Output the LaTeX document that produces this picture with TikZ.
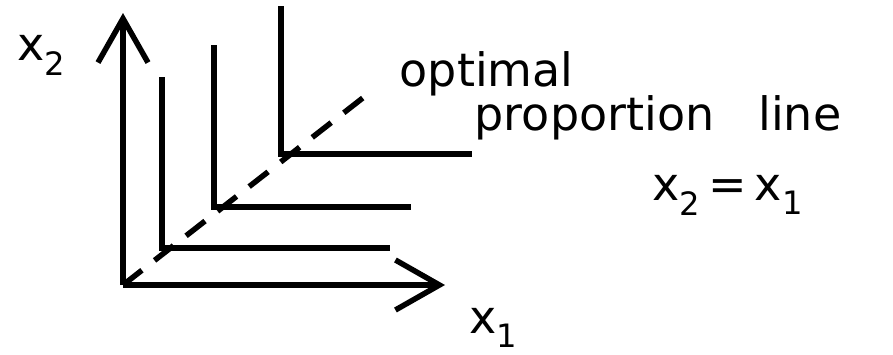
\documentclass[tikz,border=0pt]{standalone}
\usepackage{fontspec}
\setmainfont{DejaVu Sans}
\usetikzlibrary{arrows.meta}

\begin{document}
\begin{tikzpicture}[x=1pt,y=-1pt,line width=5.5pt,
    axisline/.style={-{Straight Barb[length=44pt,width=50pt]}},
    ratioline/.style={dash pattern=on 24pt off 16pt},
    lbl/.style={anchor=base west,inner sep=0pt,font=\fontsize{46}{50}\selectfont}]
  \useasboundingbox (0,0) rectangle (893,354);

  % Axes
  \coordinate (O) at (123,285);
  \coordinate (ytop) at (123,13);
  \coordinate (xend) at (445,285);
  \draw[axisline] (O) -- (ytop);
  \draw[axisline] (O) -- (xend);
  \node[lbl] (xtwo) at (15,60) {x\textsubscript{2}};
  \node[lbl] (xone) at (467,333) {x\textsubscript{1}};

  % Optimal proportion line
  \coordinate (rayend) at (373,90);
  \draw[ratioline] (O) -- (rayend);

  % Isoquants (corner x, corner y, top, right end)
  \foreach \cx/\cy/\top/\right [count=\i] in {162/248/77/390, 214/207/45/411, 281/154/6/472} {
    \coordinate (q\i top) at (\cx,\top);
    \coordinate (q\i) at (\cx,\cy);
    \coordinate (q\i end) at (\right,\cy);
    \draw (q\i top) -- (q\i) -- (q\i end);
  }

  % Labels
  \node[lbl] (optimal) at (397,86) {optimal};
  \node[lbl] (propline) at (472,130) {proportion\hspace{44pt}line};
  \node[lbl] (ratio) at (650,200) {x\textsubscript{2}\,=\,x\textsubscript{1}};
\end{tikzpicture}
\end{document}
